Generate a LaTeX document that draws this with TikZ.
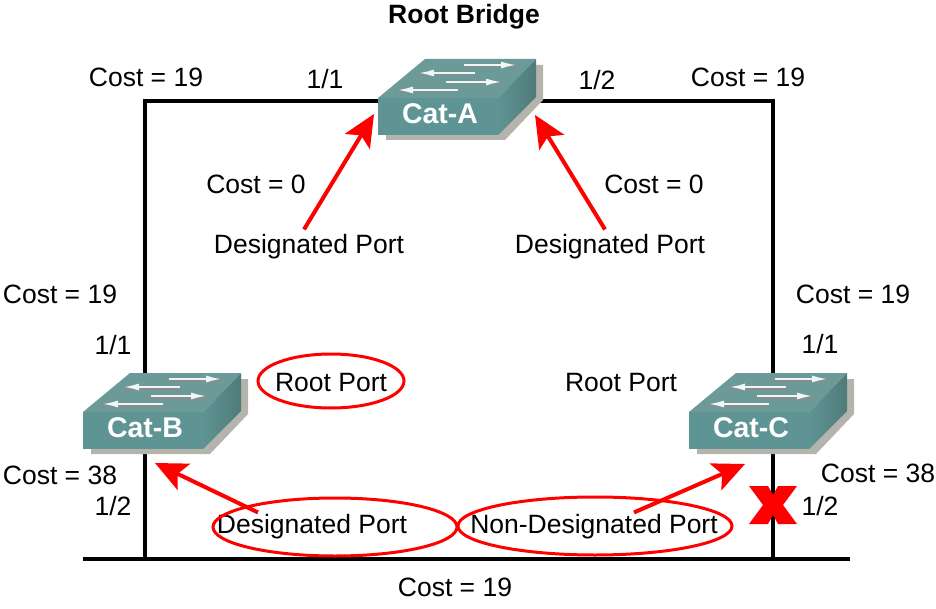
\documentclass[tikz,border=0pt]{standalone}
\usepackage{fontspec}
\setmainfont{Liberation Sans}
\usetikzlibrary{arrows.meta,backgrounds}
\definecolor{swfront}{HTML}{5F9494}
\definecolor{swtop}{HTML}{6B9A98}
\definecolor{swside}{HTML}{4F7B79}
\definecolor{swshadow}{HTML}{B4B4AC}
\definecolor{marked}{HTML}{FF0000}
\tikzset{
	lab/.style={inner sep=2pt,font=\fontsize{26.5}{30}\selectfont},
	title/.style={lab,font=\fontsize{26.5}{30}\selectfont\bfseries},
	swlab/.style={inner sep=1pt,text=white,font=\fontsize{28.5}{30}\selectfont\bfseries},
	link/.style={line width=4pt},
	ring/.style={line width=3pt,draw=marked},
	mark arrow/.style={line width=4pt,draw=marked,-{Stealth[length=32pt,width=29pt,inset=7pt,fill=marked]}},
	pics/catswitch/.style={code={
		\fill[swshadow] (8,37) -- (8,42) -- (127,42) -- (165,2) -- (165,-33) -- (158,-33) -- (120,37) -- cycle;
		\fill[swfront] (0,0) rectangle (120,37);
		\fill[swtop] (0,0) -- (47,-39) -- (158,-39) -- (120,0) -- cycle;
		\shade[left color=swfront,right color=swside] (120,0) -- (158,-39) -- (158,-1) -- (120,37) -- cycle;
		\foreach \s/\e/\r in {86/139/-33,97/40/-25,68/124/-16,80/19/-8} {
			\draw[black!45,line width=2pt] (\s,\r+1.5) -- (\e,\r+1.5);
			\draw[white!90!swtop,line width=2.2pt,-{Latex[length=16pt,width=7pt]}] (\s,\r) -- (\e,\r);
		}
		\node (-name) at (62,15.5) [swlab] {#1};
	}}
}
\begin{document}
\begin{tikzpicture}[x=1pt,y=-1pt]
	\useasboundingbox (0,0) rectangle (936,609);
	%
	\pic (catA) at (378,98) {catswitch=Cat-A};
	\pic (catB) at (83,412) {catswitch=Cat-B};
	\pic (catC) at (689,412) {catswitch=Cat-C};
	%
	\node (root)   at (464,17)  [title] {Root Bridge};
	\node (costAl) at (146,77)  [lab] {Cost = 19};
	\node (portAl) at (325,79)  [lab] {1/1};
	\node (portAr) at (597,80)  [lab] {1/2};
	\node (costAr) at (748,77)  [lab] {Cost = 19};
	%
	\node (zeroL)  at (256,184) [lab] {Cost = 0};
	\node (zeroR)  at (654,184) [lab] {Cost = 0};
	\node (dpL)    at (309,247) [lab] {Designated Port};
	\node (dpR)    at (610,247) [lab] {Designated Port};
	%
	\node (costBt) at (60,294)  [lab] {Cost = 19};
	\node (costCt) at (853,294) [lab] {Cost = 19};
	\node (portBt) at (113,345) [lab] {1/1};
	\node (portCt) at (820,344) [lab] {1/1};
	\node (rpB)    at (331,383) [lab] {Root Port};
	\node (rpC)    at (621,383) [lab] {Root Port};
	%
	\node (costBb) at (60,475)  [lab] {Cost = 38};
	\node (costCb) at (878,473) [lab] {Cost = 38};
	\node (portBb) at (113,506) [lab] {1/2};
	\node (portCb) at (820,506) [lab] {1/2};
	\node (dpB)    at (312,527) [lab] {Designated Port};
	\node (ndpC)   at (594,527) [lab] {Non-Designated Port};
	\node (costLan) at (455,587) [lab] {Cost = 19};
	%
	\coordinate (cornerL) at (145,101);
	\coordinate (cornerR) at (773,101);
	\coordinate (lanL) at (83,559);
	\coordinate (lanR) at (850,559);
	\coordinate (block) at (773,505);
	\coordinate (tipAl) at (374,114);
	\coordinate (tipAr) at (535,115);
	\coordinate (tipB) at (155,463);
	\coordinate (tipC) at (745,464);
	%
	\begin{scope}[on background layer]
		\draw[link] (catA-name |- cornerL) -- (cornerL) -- (cornerL |- lanL);
		\draw[link] (catA-name |- cornerR) -- (cornerR) -- ([yshift=-22pt]block);
		\draw[link] ([yshift=21pt]block) -- (block |- lanR);
		\draw[link] (lanL) -- (lanR);
	\end{scope}
	% the blocked port
	\fill[marked,shift={(block)}] (-24,-19) -- (-5,-19) -- (0,-10) -- (5,-19) -- (24,-19)
		-- (10,0) -- (24,19) -- (5,19) -- (0,10) -- (-5,19) -- (-24,19) -- (-10,0) -- cycle;
	%
	\draw[ring] (331,381) ellipse (73 and 27);
	\draw[ring] (335,527) ellipse (122 and 29);
	\draw[ring] (595,526) ellipse (137 and 29);
	%
	\draw[mark arrow] ([xshift=-5pt,yshift=3pt]dpL.north) -- (tipAl);
	\draw[mark arrow] ([xshift=-5pt,yshift=3pt]dpR.north) -- (tipAr);
	\draw[mark arrow] ([xshift=-54pt]dpB.north) -- (tipB);
	\draw[mark arrow] ([xshift=40pt]ndpC.north) -- (tipC);
\end{tikzpicture}
\end{document}
